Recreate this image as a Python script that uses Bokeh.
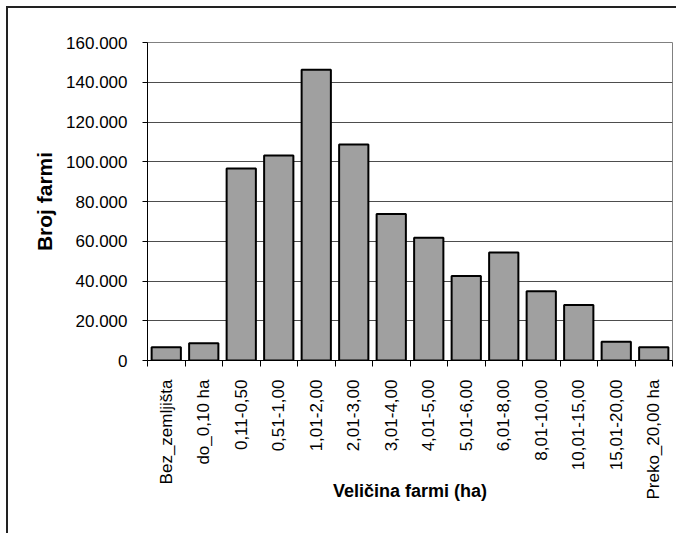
import math
from bokeh.plotting import figure
from bokeh.models import Range1d, FixedTicker, LinearAxis
from bokeh.embed import file_html
from bokeh.resources import INLINE

categories = ["Bez_zemljišta", "do_0,10 ha", "0,11-0,50", "0,51-1,00", "1,01-2,00",
              "2,01-3,00", "3,01-4,00", "4,01-5,00", "5,01-6,00", "6,01-8,00",
              "8,01-10,00", "10,01-15,00", "15,01-20,00", "Preko_20,00 ha"]
farms = [6700, 8700, 96600, 103100, 146300, 108700, 73700, 61800, 42500, 54300,
         34900, 27900, 9400, 6700]
y_ticks = [0, 20000, 40000, 60000, 80000, 100000, 120000, 140000, 160000]
y_tick_labels = ["0", "20.000", "40.000", "60.000", "80.000", "100.000",
                 "120.000", "140.000", "160.000"]

FONT = "Liberation Sans"
xs = [i + 1 for i in range(len(categories))]

p = figure(width=670, height=527, output_backend="svg", toolbar_location=None,
           x_range=Range1d(0.5, len(categories) + 0.5), y_range=Range1d(0, 160000),
           x_axis_location=None, y_axis_location=None,
           min_border_left=139, min_border_top=34, min_border_right=6, min_border_bottom=175)
p.styles = {"margin-left": "6px", "margin-top": "6px",
            "border-left": "2px solid #222222", "border-top": "2px solid #222222"}
p.outline_line_color = "#808080"
p.outline_line_width = 1
p.background_fill_color = "white"
p.border_fill_color = "white"

p.vbar(x=xs, top=farms, width=0.78, fill_color="#A0A0A0", line_color="black", line_width=2)

xaxis = LinearAxis(ticker=FixedTicker(ticks=xs, minor_ticks=[x - 0.5 for x in xs] + [xs[-1] + 0.5]))
xaxis.major_label_overrides = {x: c for x, c in zip(xs, categories)}
xaxis.major_label_orientation = math.pi / 2
xaxis.major_tick_out = 0
xaxis.major_tick_in = 0
xaxis.minor_tick_out = 6
xaxis.minor_tick_in = 0
xaxis.minor_tick_line_color = "black"
xaxis.axis_line_color = "black"
xaxis.axis_line_width = 1
xaxis.major_label_text_font = FONT
xaxis.major_label_text_font_size = "17px"
xaxis.major_label_text_color = "black"
xaxis.major_label_standoff = 13
xaxis.axis_label = "Veličina farmi (ha)"
xaxis.axis_label_text_font = FONT
xaxis.axis_label_text_font_style = "bold"
xaxis.axis_label_text_font_size = "18px"
xaxis.axis_label_text_color = "black"
xaxis.axis_label_standoff = -22
p.add_layout(xaxis, "below")

yaxis = LinearAxis(ticker=FixedTicker(ticks=y_ticks, minor_ticks=[]))
yaxis.major_label_overrides = {t: l for t, l in zip(y_ticks, y_tick_labels)}
yaxis.major_tick_out = 5
yaxis.major_tick_in = 0
yaxis.major_tick_line_color = "black"
yaxis.axis_line_color = "black"
yaxis.major_label_text_font = FONT
yaxis.major_label_text_font_size = "17px"
yaxis.major_label_text_color = "black"
yaxis.major_label_standoff = 15
yaxis.axis_label = "Broj farmi"
yaxis.axis_label_text_font = FONT
yaxis.axis_label_text_font_style = "bold"
yaxis.axis_label_text_font_size = "21px"
yaxis.axis_label_text_color = "black"
yaxis.axis_label_standoff = 7
p.add_layout(yaxis, "left")

p.xgrid.visible = False
p.ygrid.ticker = FixedTicker(ticks=y_ticks)
p.ygrid.grid_line_color = "#4d4d4d"
p.ygrid.grid_line_width = 1

open("out.html", "w").write(file_html(p, INLINE))
